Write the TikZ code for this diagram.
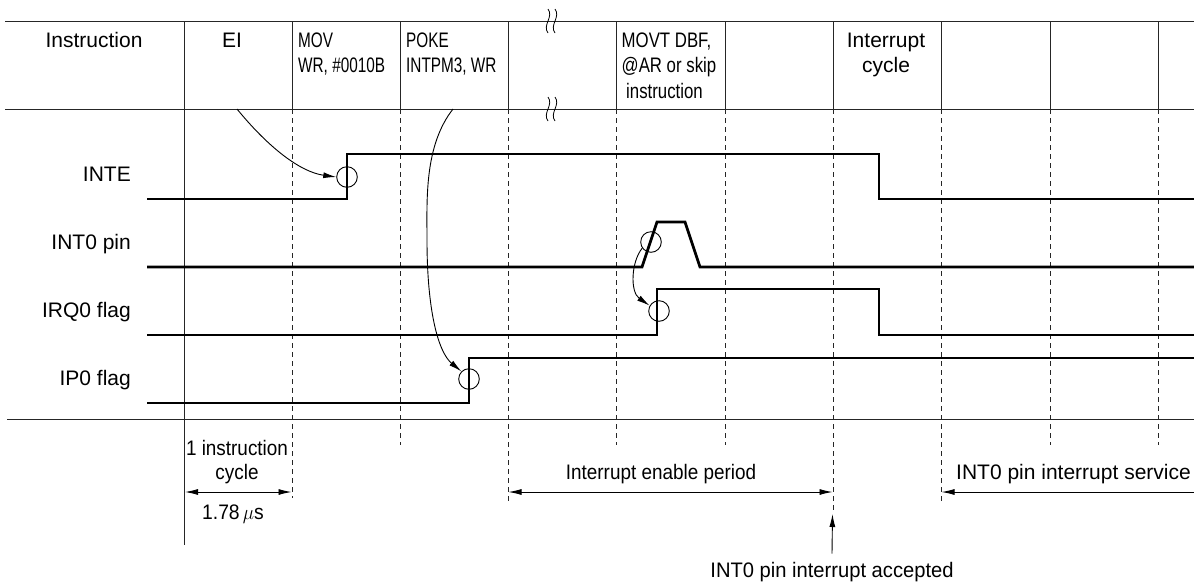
\documentclass[tikz,border=0pt]{standalone}
\usepackage{fontspec}
\usepackage{graphicx}
\setmainfont{Liberation Sans}
\usetikzlibrary{arrows.meta}
\newcommand{\cnd}[2]{\scalebox{#1}[1]{#2}}
\begin{document}
\begin{tikzpicture}[x=1pt,y=-1pt,
  grid/.style={line width=1pt, black!85},
  dsh/.style={line width=0.9pt, black!85, dash pattern=on 5pt off 4pt},
  sig/.style={line width=2.8pt, line join=miter, line cap=butt},
  ring/.style={circle, draw, line width=0.9pt, minimum size=20.6pt, inner sep=0pt},
  arr/.style={line width=0.9pt, -{Latex[length=13pt,width=6pt]}},
  darr/.style={line width=0.9pt, {Latex[length=13pt,width=6pt]}-{Latex[length=13pt,width=6pt]}},
  txt/.style={font=\fontsize{21}{25}\selectfont, inner sep=0pt},
  brk/.style={line width=0.8pt},
]
\useasboundingbox (0,0) rectangle (1194,582);

% table lines
\draw[grid] (5,21) -- (1194,21);
\draw[grid] (5,109) -- (1194,109);
\draw[grid] (7,419) -- (1194,419);
\draw[grid] (184,21) -- (184,545);
\foreach \xx/\yend in {292/498, 400/445, 508/502, 616/445, 725/445, 833/512, 941/502, 1050/445, 1158/445}{
  \draw[grid] (\xx,21) -- (\xx,109);
  \draw[dsh] (\xx,109) -- (\xx,\yend);
}
% break marks
\foreach \yy in {21,109}{
  \foreach \xx in {548,555}{
    \draw[brk] ({\xx},{\yy-12}) .. controls ({\xx+6},{\yy-4}) and ({\xx-6},{\yy+4}) .. ({\xx},{\yy+12});
  }
}

% header texts
\node[txt, anchor=base] (hIns) at (94,47) {Instruction};
\node[txt, anchor=base] (hEI) at (232,47) {EI};
\node[txt, anchor=base west] (hMov1) at (298,47) {\cnd{0.73}{MOV}};
\node[txt, anchor=base west] (hMov2) at (298,72.5) {\cnd{0.73}{WR, \#0010B}};
\node[txt, anchor=base west] (hPoke1) at (406,47) {\cnd{0.73}{POKE}};
\node[txt, anchor=base west] (hPoke2) at (406,72.5) {\cnd{0.73}{INTPM3, WR}};
\node[txt, anchor=base west] (hMovt1) at (621.5,47) {\cnd{0.8}{MOVT DBF,}};
\node[txt, anchor=base west] (hMovt2) at (621.5,72.5) {\cnd{0.8}{@AR or skip}};
\node[txt, anchor=base west] (hMovt3) at (626,98) {\cnd{0.8}{instruction}};
\node[txt, anchor=base] (hInt1) at (886,47) {Interrupt};
\node[txt, anchor=base] (hInt2) at (886,72.5) {cycle};

% signal labels
\node[txt, anchor=base east] (lINTE) at (131,181.5) {INTE};
\node[txt, anchor=base east] (lINT0) at (131,249.5) {INT0 pin};
\node[txt, anchor=base east] (lIRQ) at (131,317.5) {IRQ0 flag};
\node[txt, anchor=base east] (lIP) at (131,385.5) {IP0 flag};

% signals
\draw[sig] (147,199) -- (347,199) -- (347,154) -- (879,154) -- (879,199) -- (1194,199);
\draw[sig] (147,267) -- (642,267) -- (657,222) -- (685,222) -- (700,267) -- (1194,267);
\draw[sig] (147,335) -- (657,335) -- (657,289) -- (879,289) -- (879,335) -- (1194,335);
\draw[sig] (147,403) -- (469,403) -- (469,358) -- (1194,358);

% circles
\node[ring] (c1) at (347,177) {};
\node[ring] (c2) at (651,242) {};
\node[ring] (c3) at (469,379) {};
\node[ring] (c4) at (659,311) {};

% causal arrows
\coordinate (sEI) at (237,109);
\coordinate (sPoke) at (453,109);
\draw[arr] (sEI) .. controls (268,147) and (300,172) .. (c1.west);
\draw[arr] (sPoke) .. controls (424,146) and (427,200) .. (427,240)
  .. controls (427,310) and (438,352) .. (c3.north west);
\draw[arr] (c2.215) .. controls (631,262) and (630,292) .. (c4.150);

% bottom annotations
\node[txt, anchor=base] (bIc1) at (237,455) {\cnd{0.9}{1 instruction}};
\node[txt, anchor=base] (bIc2) at (237,479) {\cnd{0.9}{cycle}};
\node[txt, anchor=base] (bT) at (233,519.5) {\cnd{0.92}{1.78\,$\mu$s}};
\coordinate (d1a) at (185,492);
\coordinate (d1b) at (291.5,492);
\draw[darr] (d1a) -- (d1b);

\node[txt, anchor=base] (bIep) at (661,479) {\cnd{0.9}{Interrupt enable period}};
\coordinate (d2a) at (508.5,492);
\coordinate (d2b) at (832.5,492);
\draw[darr] (d2a) -- (d2b);

\node[txt, anchor=base west] (bSrv) at (956,479) {INT0 pin interrupt service};
\coordinate (d3a) at (1194,492);
\coordinate (d3b) at (941.5,492);
\draw[arr] (d3a) -- (d3b);

\node[txt, anchor=base] (bAcc) at (832,577) {\cnd{0.96}{INT0 pin interrupt accepted}};
\coordinate (accTip) at (832.5,514);
\draw[arr] ([yshift=8pt]bAcc.north) -- (accTip);
\end{tikzpicture}
\end{document}
